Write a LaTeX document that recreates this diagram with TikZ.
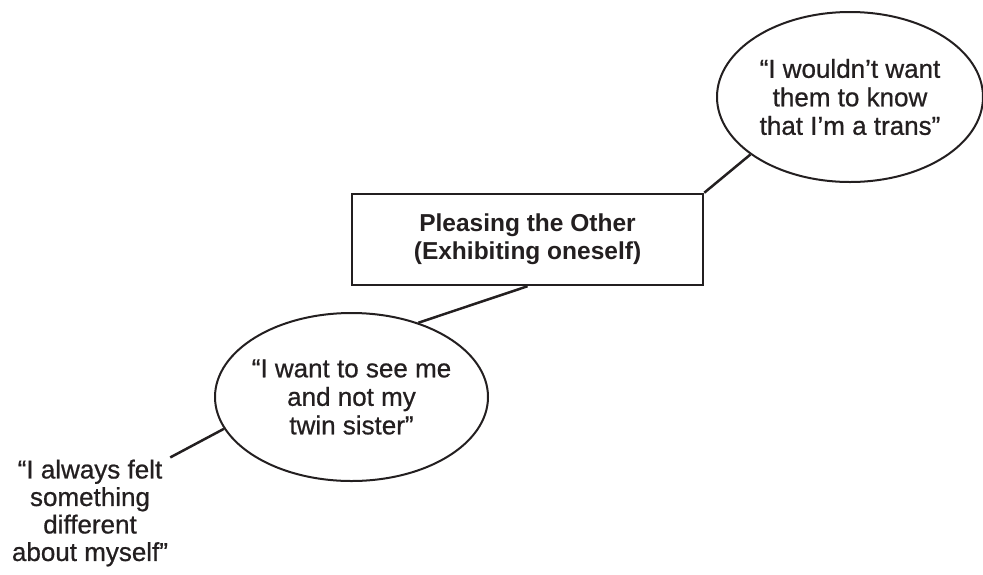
\documentclass[tikz,border=0pt]{standalone}
\usepackage{fontspec}
\setmainfont{Liberation Sans}
\newfontfamily\quotefont{Liberation Sans}[FakeBold=0.7]
\usepackage{tikz}
\usetikzlibrary{shapes.geometric}
\definecolor{ink}{HTML}{231F20}

\begin{document}
\begin{tikzpicture}[x=1pt, y=-1pt,
  quote/.style={ellipse, draw=ink, line width=2pt, inner xsep=-12pt, inner ysep=0pt,
                font=\quotefont\fontsize{26}{28.5}\selectfont, text=ink, align=center},
  box/.style={rectangle, draw=ink, line width=2.5pt,
              minimum width=351pt, minimum height=91pt,
              font=\fontsize{24.5}{28}\selectfont\bfseries, text=ink, align=center},
  lnk/.style={draw=ink, line width=2.5pt},
]
  \useasboundingbox (0,0) rectangle (983,574);
  \node[quote, minimum width=266pt, minimum height=170pt] (wouldnt) at (850,97)
    {“I wouldn’t want\\them to know\\that I’m a trans”};
  \node[box] (pleasing) at (527.5,239.5) {Pleasing the Other\\(Exhibiting oneself)};
  \node[quote, minimum width=273pt, minimum height=168pt] (seeme) at (351.5,397)
    {“I want to see me\\and not my\\twin sister”};
  \node[font=\quotefont\fontsize{26}{27.5}\selectfont, text=ink, align=center, inner sep=2pt]
    (always) at (90,513) {“I always felt\\something\\different\\about myself”};
  \draw[lnk] (pleasing.north east)--(wouldnt.210);
  \draw[lnk] (pleasing.south)--(seeme.48);
  \draw[lnk] (seeme.194)--(always.north east);
\end{tikzpicture}
\end{document}
